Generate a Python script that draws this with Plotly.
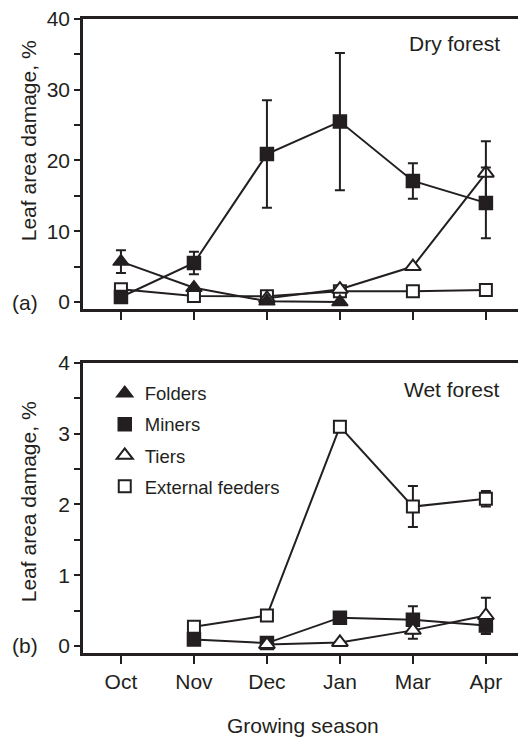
import plotly.graph_objects as go

months = ["Oct", "Nov", "Dec", "Jan", "Mar", "Apr"]
xpos = [0, 1, 2, 3, 4, 5]

# Dry forest (a)
dry_folders = [5.7, 2.0, 0.1, 0.0, None, None]
dry_folders_err = [1.6, 0, 0, 0, 0, 0]
dry_miners = [0.7, 5.5, 20.9, 25.5, 17.1, 14.0]
dry_miners_err = [0, 1.6, 7.6, 9.7, 2.5, 5.0]
dry_tiers = [None, None, 0.5, 1.8, 5.0, 18.2]
dry_tiers_err = [0, 0, 0, 0, 0, 4.5]
dry_ext = [1.8, 0.85, 0.8, 1.5, 1.5, 1.7]
dry_ext_err = [0, 0, 0, 0, 0, 0]

# Wet forest (b)
wet_miners = [None, 0.09, 0.04, 0.40, 0.37, 0.29]
wet_miners_err = [0, 0, 0, 0, 0.19, 0.12]
wet_tiers = [None, None, 0.02, 0.05, 0.22, 0.43]
wet_tiers_err = [0, 0, 0, 0, 0.12, 0.25]
wet_ext = [None, 0.27, 0.43, 3.10, 1.97, 2.08]
wet_ext_err = [0, 0.07, 0, 0, 0.29, 0.11]

FONT = "Liberation Sans, Arial, sans-serif"
BLACK = "#231f20"
FS = 21

styles = {
    "Folders": dict(symbol="triangle-up", color=BLACK, line=dict(color=BLACK, width=1.5), size=14),
    "Miners": dict(symbol="square", color=BLACK, line=dict(color=BLACK, width=1.5), size=13),
    "Tiers": dict(symbol="triangle-up", color="white", line=dict(color=BLACK, width=2), size=14),
    "External feeders": dict(symbol="square", color="white", line=dict(color=BLACK, width=2), size=12),
}

fig = go.Figure()

def add(name, y, err, xa, ya):
    fig.add_trace(go.Scatter(
        x=xpos, y=y, mode="lines+markers", name=name, showlegend=False,
        xaxis=xa, yaxis=ya,
        line=dict(color=BLACK, width=2),
        marker=styles[name],
        error_y=dict(type="data", array=err, visible=True, color=BLACK, thickness=2, width=5),
        connectgaps=False,
    ))

add("External feeders", dry_ext, dry_ext_err, "x", "y")
add("Tiers", dry_tiers, dry_tiers_err, "x", "y")
add("Miners", dry_miners, dry_miners_err, "x", "y")
add("Folders", dry_folders, dry_folders_err, "x", "y")

add("Miners", wet_miners, wet_miners_err, "x2", "y2")
add("Tiers", wet_tiers, wet_tiers_err, "x2", "y2")
add("External feeders", wet_ext, wet_ext_err, "x2", "y2")

for name in ["Folders", "Miners", "Tiers", "External feeders"]:
    fig.add_trace(go.Scatter(
        x=[None], y=[None], mode="markers", name=name, showlegend=True,
        legendgroup=name, xaxis="x2", yaxis="y2", marker=styles[name],
    ))

xcommon = dict(
    range=[-0.52, 5.44], tickvals=xpos, ticktext=months,
    showline=True, linewidth=2.5, linecolor=BLACK, mirror=True,
    ticks="outside", ticklen=8, tickwidth=2, tickcolor=BLACK,
    showgrid=False, zeroline=False,
    tickfont=dict(size=FS, color=BLACK, family=FONT),
)
ycommon = dict(
    showline=True, linewidth=2.5, linecolor=BLACK, mirror=False,
    ticks="outside", ticklen=6, tickwidth=2, tickcolor=BLACK,
    showgrid=False, zeroline=False,
    tickfont=dict(size=FS, color=BLACK, family=FONT),
)

fig.update_layout(
    width=518, height=738,
    margin=dict(l=83, r=0, t=19, b=85),
    paper_bgcolor="white", plot_bgcolor="white",
    font=dict(family=FONT, size=FS, color=BLACK),
    xaxis=dict(**xcommon, anchor="y", domain=[0, 1], showticklabels=False),
    yaxis=dict(**ycommon, anchor="x", domain=[0.5426, 1], range=[-1, 40], dtick=10,
               minor=dict(dtick=5, ticks="outside", ticklen=6, tickwidth=2, tickcolor=BLACK)),
    xaxis2=dict(**xcommon, anchor="y2", domain=[0, 1]),
    yaxis2=dict(**ycommon, anchor="x2", domain=[0, 0.4574], range=[-0.1, 4], dtick=1,
                minor=dict(dtick=0.5, ticks="outside", ticklen=6, tickwidth=2, tickcolor=BLACK)),
    legend=dict(x=0.05, y=0.439, xanchor="left", yanchor="top",
                bgcolor="rgba(0,0,0,0)", font=dict(size=18.5, family=FONT, color=BLACK),
                tracegroupgap=4, itemclick=False),
    showlegend=True,
)

ann = [
    dict(text="Dry forest", x=0.855, y=0.962),
    dict(text="Wet forest", x=0.848, y=0.415),
    dict(text="(a)", x=-0.133, y=0.5536),
    dict(text="(b)", x=-0.133, y=0.0126),
    dict(text="Growing season", x=0.506, y=-0.1136),
    dict(text="Leaf area damage, %", x=-0.126, y=0.798 + 0.0095, textangle=-90),
    dict(text="Leaf area damage, %", x=-0.126, y=0.2366 + 0.0015, textangle=-90),
]
for a in ann:
    fig.add_annotation(xref="paper", yref="paper", showarrow=False,
                       xanchor="center", yanchor="middle",
                       font=dict(size=FS, family=FONT, color=BLACK), **a)

fig.write_html("out.html", config={"displayModeBar": False},
               post_script="document.body.style.margin='0';document.body.style.overflow='hidden';")
